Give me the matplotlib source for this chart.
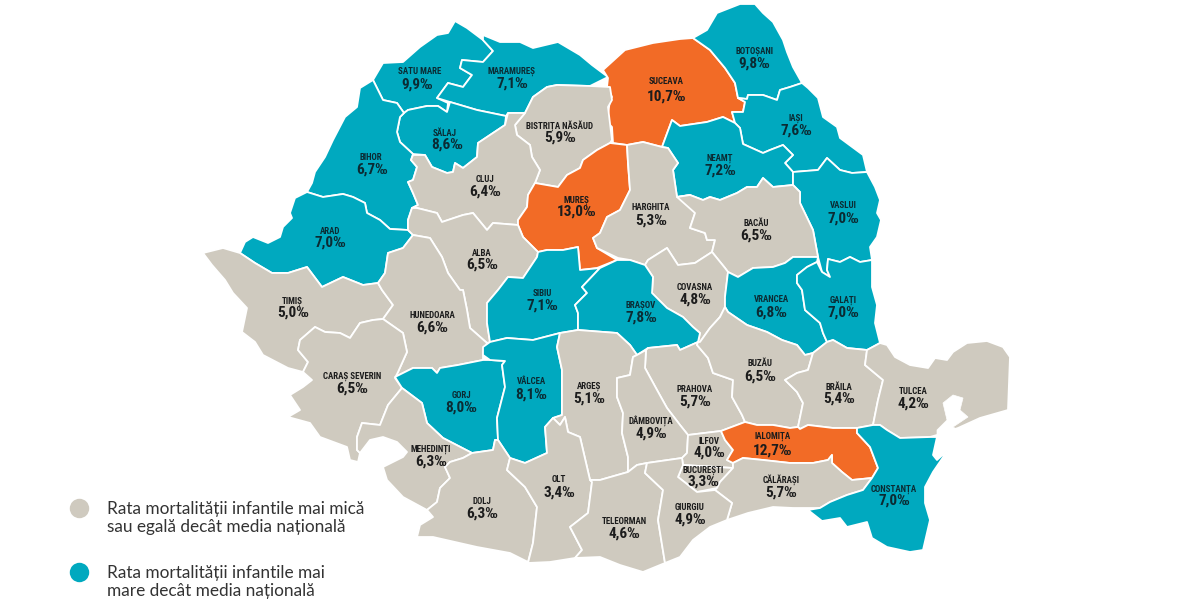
import matplotlib
matplotlib.use("Agg")
import matplotlib.pyplot as plt
from matplotlib import font_manager as fm
from matplotlib.patches import Polygon

BEIGE = "#CFCABF"
TEAL = "#00A9BF"
ORANGE = "#F26B26"
COLORS = {"b": BEIGE, "t": TEAL, "o": ORANGE}

counties = ["SATU MARE", "MARAMUREȘ", "SUCEAVA", "BOTOȘANI", "BISTRIȚA NĂSĂUD", "SĂLAJ", "IAȘI", "BIHOR",
            "NEAMȚ", "CLUJ", "MUREȘ", "HARGHITA", "VASLUI", "BACĂU", "ARAD", "ALBA", "COVASNA", "SIBIU",
            "BRAȘOV", "VRANCEA", "GALAȚI", "TIMIȘ", "HUNEDOARA", "CARAȘ SEVERIN", "GORJ", "VÂLCEA", "ARGEȘ",
            "PRAHOVA", "BUZĂU", "BRĂILA", "TULCEA", "DÂMBOVIȚA", "ILFOV", "IALOMIȚA", "BUCUREȘTI", "CĂLĂRAȘI",
            "MEHEDINȚI", "CONSTANȚA", "DOLJ", "OLT", "TELEORMAN", "GIURGIU"]
rates = [9.9, 7.1, 10.7, 9.8, 5.9, 8.6, 7.6, 6.7,
         7.2, 6.4, 13.0, 5.3, 7.0, 6.5, 7.0, 6.5, 4.8, 7.1,
         7.8, 6.8, 7.0, 5.0, 6.6, 6.5, 8.0, 8.1, 5.1,
         5.7, 6.5, 5.4, 4.2, 4.9, 4.0, 12.7, 3.3, 5.7,
         6.3, 7.0, 6.3, 3.4, 4.6, 4.9]
classes = ["t", "t", "o", "t", "b", "t", "t", "t",
           "t", "b", "o", "b", "t", "b", "t", "b", "b", "t",
           "t", "t", "t", "b", "b", "b", "t", "t", "b",
           "b", "b", "b", "b", "b", "b", "o", "b", "b",
           "b", "t", "b", "b", "b", "b"]

name_xy = [(420, 71), (512, 71), (666, 81), (754, 51), (560, 126), (445, 133), (796, 118), (371, 158),
           (720, 158), (485, 180), (576, 200), (651, 208), (843, 206), (756, 223), (330, 231), (482, 253),
           (695, 287), (542, 293), (641, 305), (771, 300), (843, 300), (292, 301), (432, 315), (352, 376),
           (461, 396), (531, 382), (589, 386), (695, 390), (760, 364), (839, 387), (913, 391), (651, 421),
           (709, 441), (773, 436), (703, 470), (781, 480), (431, 449), (894, 489), (482, 502), (559, 480),
           (624, 521), (690, 508)]
value_xy = [(417, 85), (512, 84), (666, 97), (754, 64), (560, 138), (447, 145), (796, 131), (372, 170),
            (720, 171), (485, 192), (577, 212), (651, 221), (843, 219), (756, 236), (330, 243), (482, 265),
            (695, 300), (542, 306), (641, 318), (771, 313), (843, 313), (293, 313), (432, 328), (352, 389),
            (461, 408), (531, 395), (589, 399), (695, 402), (760, 377), (839, 399), (913, 404), (651, 434),
            (709, 453), (773, 451), (703, 482), (781, 493), (431, 462), (894, 501), (482, 514), (559, 493),
            (624, 534), (690, 520)]

shapes = {
"SATU MARE": [(373,80),(383,63),(403,62),(420,47),(437,35),(448,33),(455,21),(467,28),(483,40),(493,51),(483,62),(462,60),(460,68),(472,75),(463,87),(448,83),(437,98),(448,103),(447,112),(438,106),(427,106),(408,110),(404,113),(397,103),(383,100)],
"MARAMUREȘ": [(483,35),(500,42),(520,42),(533,48),(558,42),(580,55),(592,65),(608,77),(590,86),(557,85),(547,87),(533,97),(525,113),(508,113),(506,116),(477,110),(450,102),(437,98),(448,83),(463,87),(472,75),(460,68),(462,60),(483,62),(493,51),(483,40)],
"SĂLAJ": [(404,113),(408,110),(427,106),(438,106),(447,112),(450,102),(477,110),(506,116),(505,125),(493,133),(478,143),(477,157),(463,168),(455,163),(453,172),(447,173),(432,167),(425,155),(413,154),(400,142),(397,132),(400,117)],
"BIHOR": [(373,80),(383,100),(397,103),(404,113),(400,117),(397,132),(400,142),(413,154),(411,160),(417,167),(413,180),(408,182),(413,193),(418,205),(412,208),(408,220),(408,230),(390,229),(380,220),(367,213),(365,203),(353,197),(343,194),(323,197),(307,192),(312,183),(315,172),(325,157),(333,140),(345,117),(357,107),(360,88)],
"ARAD": [(307,192),(323,197),(343,194),(353,197),(365,203),(367,213),(380,220),(390,229),(408,230),(413,235),(403,248),(388,253),(385,273),(378,283),(363,285),(343,277),(322,287),(307,267),(288,273),(272,273),(255,263),(240,253),(245,242),(253,237),(268,243),(280,237),(283,227),(292,218),(290,213),(295,198)],
"TIMIȘ": [(203,253),(223,248),(240,253),(255,263),(272,273),(288,273),(307,267),(322,287),(343,277),(363,285),(378,283),(382,290),(393,305),(383,319),(373,320),(360,323),(350,338),(340,333),(325,332),(315,327),(300,340),(298,350),(308,362),(303,372),(288,368),(263,355),(255,342),(242,332),(247,308),(233,293),(225,280),(212,265)],
"CARAȘ SEVERIN": [(300,340),(315,327),(325,332),(340,333),(350,338),(360,323),(373,320),(383,319),(403,333),(407,352),(398,372),(395,378),(402,388),(388,405),(380,425),(362,423),(357,437),(357,450),(360,453),(358,462),(350,460),(347,447),(320,437),(310,423),(288,417),(300,410),(290,395),(303,387),(312,380),(303,372),(308,362),(298,350)],
"HUNEDOARA": [(378,283),(385,273),(388,253),(403,248),(413,235),(430,238),(442,257),(448,273),(460,290),(463,290),(467,310),(470,328),(487,343),(483,352),(483,360),(458,365),(440,368),(437,373),(432,368),(413,368),(395,377),(398,372),(407,352),(403,333),(383,319),(393,305),(382,290)],
"ALBA": [(413,235),(408,230),(408,220),(412,208),(417,208),(437,213),(442,222),(463,215),(473,213),(487,230),(493,223),(518,225),(523,237),(533,247),(538,252),(537,257),(523,278),(508,277),(498,290),(487,303),(487,323),(490,342),(487,343),(470,328),(467,310),(463,290),(460,290),(448,273),(442,257),(430,238)],
"CLUJ": [(413,155),(425,155),(432,167),(447,173),(453,172),(455,163),(463,168),(477,157),(478,143),(493,133),(505,125),(508,113),(525,113),(515,125),(517,135),(530,145),(532,157),(540,170),(535,183),(528,195),(527,207),(518,220),(518,225),(493,223),(487,230),(473,213),(463,215),(442,222),(437,213),(417,208),(412,208),(418,205),(413,193),(408,182),(413,180),(417,167),(411,160)],
"BISTRIȚA NĂSĂUD": [(525,113),(533,97),(547,87),(557,85),(590,86),(610,87),(612,100),(608,107),(612,140),(610,143),(597,150),(583,160),(580,168),(567,175),(558,187),(535,183),(540,170),(532,157),(530,145),(517,135),(515,125)],
"SUCEAVA": [(603,70),(625,50),(653,43),(680,39),(693,38),(710,50),(725,68),(735,83),(738,98),(745,102),(743,112),(732,112),(735,123),(723,117),(707,122),(680,126),(672,120),(662,147),(643,142),(627,145),(613,143),(612,127),(607,122),(610,100),(612,97),(607,87),(608,78)],
"BOTOȘANI": [(693,38),(707,30),(717,13),(740,4),(755,4),(763,13),(773,22),(783,40),(787,52),(793,67),(802,83),(790,87),(780,90),(777,100),(763,95),(748,95),(747,99),(738,98),(735,83),(725,68),(710,50)],
"IAȘI": [(802,83),(808,88),(818,98),(823,117),(837,127),(840,138),(863,155),(867,172),(852,173),(840,170),(827,158),(818,170),(793,172),(785,163),(793,155),(783,145),(770,150),(763,153),(743,144),(740,128),(735,123),(732,112),(743,112),(745,102),(738,98),(747,99),(748,95),(763,95),(777,100),(780,90),(790,87)],
"NEAMȚ": [(680,126),(707,122),(723,117),(735,123),(740,128),(743,144),(763,153),(770,150),(783,145),(793,155),(785,163),(793,172),(793,185),(773,187),(763,178),(757,187),(747,187),(737,193),(720,200),(710,197),(703,200),(690,195),(677,197),(673,170),(678,163),(668,148),(662,147),(672,120)],
"HARGHITA": [(627,145),(643,142),(662,147),(668,148),(678,163),(673,170),(677,197),(690,195),(695,213),(690,228),(705,233),(707,240),(715,240),(712,252),(695,263),(678,265),(667,248),(648,260),(645,265),(630,260),(618,258),(597,248),(593,238),(600,233),(607,217),(620,210),(630,190),(628,163)],
"MUREȘ": [(610,143),(627,145),(628,163),(630,190),(620,210),(607,217),(600,233),(593,238),(597,248),(617,260),(597,268),(580,270),(578,247),(563,250),(547,250),(538,252),(533,247),(523,237),(518,225),(518,220),(527,207),(528,195),(535,183),(558,187),(567,175),(580,168),(583,160),(597,150)],
"SIBIU": [(538,252),(547,250),(563,250),(578,247),(580,270),(600,268),(582,287),(587,293),(575,305),(578,313),(578,330),(560,333),(533,340),(507,338),(490,342),(487,323),(487,303),(498,290),(508,277),(523,278),(537,257)],
"BRAȘOV": [(587,293),(582,287),(600,268),(617,260),(630,260),(645,265),(653,277),(652,293),(667,308),(683,317),(693,327),(700,333),(698,342),(680,350),(677,345),(648,348),(637,355),(630,345),(617,333),(578,330),(578,313),(575,305)],
"COVASNA": [(645,265),(648,260),(667,248),(678,265),(695,263),(712,252),(725,268),(728,272),(725,297),(725,307),(720,317),(710,328),(700,342),(698,342),(700,333),(693,327),(683,317),(667,308),(652,293),(653,277)],
"BACĂU": [(677,197),(690,195),(703,200),(710,197),(720,200),(737,193),(747,187),(757,187),(763,178),(773,187),(793,185),(800,192),(800,203),(813,230),(818,257),(807,257),(793,257),(785,263),(773,267),(753,268),(738,277),(728,272),(725,268),(712,252),(715,240),(707,240),(705,233),(690,228),(695,213)],
"VASLUI": [(793,172),(818,170),(827,158),(840,170),(852,173),(867,172),(875,187),(880,200),(877,213),(881,220),(877,237),(870,247),(872,260),(860,262),(850,257),(840,262),(828,259),(827,270),(830,277),(822,272),(818,257),(813,230),(800,203),(800,192),(793,185)],
"GALAȚI": [(797,275),(807,267),(817,262),(822,272),(830,277),(827,270),(828,259),(840,262),(850,257),(860,262),(872,260),(872,287),(877,305),(875,323),(880,343),(867,350),(847,348),(833,340),(827,342),(823,333),(820,323),(805,310),(802,290),(797,283)],
"VRANCEA": [(728,272),(738,277),(753,268),(773,267),(785,263),(793,257),(807,257),(818,257),(817,262),(807,267),(797,275),(797,283),(802,290),(805,310),(820,323),(823,333),(827,342),(813,353),(805,355),(797,345),(782,340),(767,332),(747,325),(728,312),(725,307),(725,297)],
"BUZĂU": [(725,307),(728,312),(747,325),(767,332),(782,340),(797,345),(805,355),(813,353),(808,370),(797,373),(785,380),(797,392),(803,403),(798,427),(790,428),(773,425),(757,425),(745,422),(742,415),(732,397),(733,380),(713,373),(708,358),(697,345),(698,342),(700,342),(710,328),(720,317)],
"PRAHOVA": [(646,350),(648,348),(677,345),(680,350),(698,342),(697,345),(708,358),(713,373),(733,380),(732,397),(742,415),(745,422),(721,431),(688,435),(680,425),(667,408),(657,390),(645,368)],
"DÂMBOVIȚA": [(633,357),(637,355),(646,350),(645,368),(657,390),(667,408),(680,425),(688,435),(687,453),(682,458),(647,463),(637,465),(628,472),(628,457),(622,433),(623,413),(617,397),(617,378),(630,375)],
"ARGEȘ": [(578,330),(617,333),(630,345),(637,355),(633,357),(630,375),(617,378),(617,397),(623,413),(622,433),(628,457),(628,472),(600,480),(590,480),(580,437),(568,432),(565,417),(560,425),(553,418),(562,415),(562,370),(557,347),(560,333)],
"VÂLCEA": [(490,342),(507,338),(533,340),(560,333),(557,347),(562,370),(562,415),(553,418),(545,427),(547,453),(525,463),(510,458),(498,440),(497,418),(505,387),(502,365),(505,361),(490,360),(483,355),(483,347)],
"GORJ": [(395,377),(413,368),(432,368),(437,373),(440,368),(458,365),(483,360),(490,360),(505,361),(502,365),(505,387),(497,418),(498,440),(495,440),(493,450),(472,453),(443,438),(427,423),(422,403),(402,388)],
"MEHEDINȚI": [(402,388),(422,403),(427,423),(443,438),(472,453),(463,458),(450,462),(445,467),(450,478),(440,488),(437,502),(427,510),(403,497),(387,480),(383,467),(403,457),(407,452),(397,442),(383,437),(370,440),(360,453),(357,450),(357,437),(362,423),(380,425),(388,405)],
"DOLJ": [(472,453),(493,450),(495,440),(498,440),(510,458),(507,470),(525,487),(537,507),(533,543),(528,562),(510,553),(477,547),(433,537),(417,537),(420,525),(433,517),(427,510),(437,502),(440,488),(450,478),(445,467),(450,462),(463,458)],
"OLT": [(510,458),(525,463),(547,453),(545,427),(553,418),(560,425),(565,417),(568,432),(580,437),(590,480),(592,482),(588,513),(570,527),(582,550),(575,558),(550,562),(528,563),(533,543),(537,507),(525,487),(507,470)],
"TELEORMAN": [(590,480),(600,480),(628,472),(637,465),(647,463),(645,473),(663,490),(658,520),(665,563),(643,572),(620,565),(600,557),(575,558),(582,550),(570,527),(588,513),(592,482)],
"GIURGIU": [(647,463),(682,458),(683,465),(678,477),(697,492),(715,490),(732,503),(727,520),(710,527),(693,540),(680,557),(665,563),(658,520),(663,490),(645,473)],
"ILFOV": [(688,435),(721,431),(725,440),(733,450),(727,460),(733,463),(733,468),(683,465),(682,458),(687,453)],
"BUCUREȘTI": [(683,465),(733,468),(720,482),(717,488),(697,492),(678,477)],
"IALOMIȚA": [(721,431),(745,422),(757,425),(773,425),(790,428),(798,427),(800,429),(808,425),(833,428),(857,428),(857,433),(870,447),(878,468),(872,478),(852,480),(842,472),(832,463),(832,455),(828,460),(813,463),(790,463),(763,460),(743,458),(733,463),(727,460),(733,450),(725,440)],
"CĂLĂRAȘI": [(733,468),(733,463),(743,458),(763,460),(790,463),(813,463),(828,460),(832,455),(832,463),(842,472),(852,480),(872,478),(863,490),(847,495),(830,502),(820,508),(808,508),(793,508),(773,507),(748,513),(727,520),(732,503),(715,490),(717,488),(720,482)],
"BRĂILA": [(813,353),(827,342),(833,340),(847,348),(867,350),(865,365),(883,380),(878,400),(873,425),(857,428),(833,428),(808,425),(800,429),(798,427),(803,403),(797,392),(785,380),(797,373),(808,370)],
"TULCEA": [(880,343),(887,345),(895,357),(910,365),(928,368),(935,358),(947,360),(953,352),(967,343),(987,341),(1003,347),(1010,357),(1008,410),(980,418),(958,428),(937,435),(930,437),(900,438),(887,430),(880,425),(873,425),(878,400),(883,380),(865,365),(867,350)],
"CONSTANȚA": [(857,428),(873,425),(880,425),(887,430),(900,438),(930,437),(937,437),(933,455),(937,460),(948,450),(933,472),(925,487),(925,503),(930,520),(923,550),(910,552),(887,547),(872,538),(867,522),(847,527),(840,518),(822,521),(808,510),(820,508),(830,502),(847,495),(863,490),(872,478),(878,468),(870,447),(857,433)],
}
lagoon = [(943,403),(953,395),(963,398),(960,410),(968,417),(953,427),(958,430),(950,438),(937,437),(937,430),(947,420)]

legend_labels = ["Rata mortalității infantile mai mică\nsau egală decât media națională",
                 "Rata mortalității infantile mai\nmare decât media națională"]
legend_colors = [BEIGE, TEAL]
legend_marker_xy = [(79, 508), (79, 572)]
legend_text_xy = [(107, 518), (107, 582)]

fig = plt.figure(figsize=(12, 6), dpi=100)
ax = fig.add_axes([0, 0, 1, 1])
ax.set_xlim(0, 1200)
ax.set_ylim(600, 0)
ax.axis("off")

available = {f.name for f in fm.fontManager.ttflist}
narrow = [n for n in ("Liberation Sans Narrow", "Roboto Condensed", "Noto Sans Condensed",
                      "Open Sans Condensed") if n in available]
cond_files = [f for f in fm.fontManager.ttflist if f.name == "DejaVu Sans" and str(f.stretch) == "condensed"]
if narrow:
    label_font = dict(family=[narrow[0], "DejaVu Sans"], fontweight="bold")
    name_size, value_size = 6.4, 11
elif cond_files:
    label_font = dict(family="DejaVu Sans", stretch="condensed", fontweight="bold")
    name_size, value_size = 5.4, 9.2
else:
    label_font = dict(family="DejaVu Sans", fontweight="bold")
    name_size, value_size = 5.4, 8.6

for name, rate, cls, nxy, vxy in zip(counties, rates, classes, name_xy, value_xy):
    ax.add_patch(Polygon(shapes[name], closed=True, facecolor=COLORS[cls], edgecolor="white",
                         linewidth=1.3, joinstyle="round"))
    ink = "#1c1c1c" if cls != "t" else "#0b2b33"
    ax.text(*nxy, name, ha="center", va="center", fontsize=name_size, color=ink, **label_font)
    ax.text(*vxy, f"{rate:.1f}".replace(".", ",") + "‰", ha="center", va="center",
            fontsize=value_size, color=ink, **label_font)
ax.add_patch(Polygon(lagoon, closed=True, facecolor="white", edgecolor="white", linewidth=0.5))

for (mx, my), col in zip(legend_marker_xy, legend_colors):
    ax.plot([mx], [my], "o", ms=14, color=col, mec="none")
for (tx, ty), lab in zip(legend_text_xy, legend_labels):
    ax.text(tx, ty, lab, ha="left", va="center", family="Lato", fontsize=12.4, color="#333333", linespacing=1.1)

fig.savefig("out.png", dpi=100, facecolor="white")
